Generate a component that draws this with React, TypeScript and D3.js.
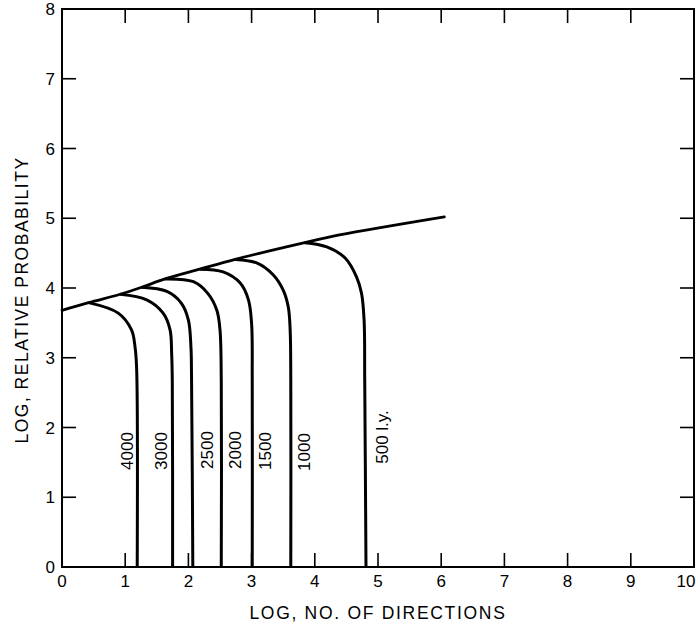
import React, { useRef, useEffect } from "react";
import * as d3 from "d3";

const xTicks = [0, 1, 2, 3, 4, 5, 6, 7, 8, 9, 10];
const yTicks = [0, 1, 2, 3, 4, 5, 6, 7, 8];

// upper envelope: log relative probability vs log no. of directions
const envelope: [number, number][] = [
  [0, 3.68], [0.42, 3.79], [0.92, 3.91], [1.26, 4.01], [1.63, 4.13],
  [2.18, 4.27], [2.74, 4.41], [3.84, 4.65], [4.39, 4.76], [6.05, 5.02],
];

// one curve per distance
const curve4000: [number, number][] = [
  [0.42, 3.79], [0.89, 3.64], [1.1, 3.4], [1.155, 3.16], [1.18, 2.87], [1.19, 0],
];
const curve3000: [number, number][] = [
  [0.92, 3.91], [1.34, 3.83], [1.6, 3.64], [1.71, 3.4], [1.735, 3.06], [1.745, 2.68], [1.75, 0],
];
const curve2500: [number, number][] = [
  [1.26, 4.01], [1.66, 3.95], [1.89, 3.78], [2.0, 3.54], [2.04, 3.16], [2.05, 2.68], [2.07, 0],
];
const curve2000: [number, number][] = [
  [1.63, 4.13], [2.08, 4.09], [2.31, 3.92], [2.45, 3.68], [2.5, 3.4], [2.52, 2.68], [2.52, 0],
];
const curve1500: [number, number][] = [
  [2.18, 4.27], [2.55, 4.23], [2.82, 4.07], [2.95, 3.83], [3.0, 3.49], [3.01, 2.68], [3.01, 0],
];
const curve1000: [number, number][] = [
  [2.74, 4.41], [3.08, 4.36], [3.34, 4.19], [3.5, 3.97], [3.58, 3.73], [3.61, 3.4], [3.62, 2.68], [3.62, 0],
];
const curve500: [number, number][] = [
  [3.84, 4.65], [4.19, 4.59], [4.48, 4.43], [4.66, 4.16], [4.74, 3.92], [4.78, 3.54], [4.79, 2.68], [4.81, 0],
];

const curves = [curve4000, curve3000, curve2500, curve2000, curve1500, curve1000, curve500];
const curveLabels = ["4000", "3000", "2500", "2000", "1500", "1000", "500 l.y."];

// label placement (px): sideways offset from the vertical part, and vertical centre
const labelDx = [-10, -12, 14, 14, 13, 13, 16];
const labelCy = [451, 451, 450, 450, 451, 452, 437];

const FONT = "'Liberation Sans', Arial, sans-serif";

export default function App() {
  const ref = useRef<SVGSVGElement>(null);

  useEffect(() => {
    const svg = d3.select(ref.current);
    svg.selectAll("*").remove();

    const x = d3.scaleLinear().domain([0, 10]).range([62, 694]);
    const y = d3.scaleLinear().domain([0, 8]).range([567, 9]);

    // frame
    svg.append("rect")
      .attr("x", x(0)).attr("y", y(8))
      .attr("width", x(10) - x(0)).attr("height", y(0) - y(8))
      .attr("fill", "none").attr("stroke", "#000").attr("stroke-width", 2);

    const tk = 14;
    const inner = xTicks.slice(1, -1);
    const innerY = yTicks.slice(1, -1);

    // ticks pointing inward on all four sides
    svg.selectAll(".tb").data(inner).join("line").classed("tb", true)
      .attr("x1", d => x(d)).attr("x2", d => x(d))
      .attr("y1", y(0)).attr("y2", y(0) - tk)
      .attr("stroke", "#000").attr("stroke-width", 1.6);
    svg.selectAll(".tt").data(inner).join("line").classed("tt", true)
      .attr("x1", d => x(d)).attr("x2", d => x(d))
      .attr("y1", y(8)).attr("y2", y(8) + tk)
      .attr("stroke", "#000").attr("stroke-width", 1.6);
    svg.selectAll(".tl").data(innerY).join("line").classed("tl", true)
      .attr("x1", x(0)).attr("x2", x(0) + tk)
      .attr("y1", d => y(d)).attr("y2", d => y(d))
      .attr("stroke", "#000").attr("stroke-width", 1.6);
    svg.selectAll(".tr").data(innerY).join("line").classed("tr", true)
      .attr("x1", x(10)).attr("x2", x(10) - tk)
      .attr("y1", d => y(d)).attr("y2", d => y(d))
      .attr("stroke", "#000").attr("stroke-width", 1.6);

    // tick labels
    svg.selectAll(".xl").data(xTicks).join("text").classed("xl", true)
      .attr("x", d => (d === 10 ? x(d) - 8 : x(d)))
      .attr("y", 587)
      .attr("text-anchor", "middle")
      .style("font-family", FONT).style("font-size", "17px")
      .text(d => d);
    svg.selectAll(".yl").data(yTicks).join("text").classed("yl", true)
      .attr("x", 55)
      .attr("y", d => y(d) + 6)
      .attr("text-anchor", "end")
      .style("font-family", FONT).style("font-size", "17px")
      .text(d => d);

    // axis titles
    svg.append("text")
      .attr("x", 378).attr("y", 619)
      .attr("text-anchor", "middle")
      .style("font-family", FONT).style("font-size", "17.5px")
      .style("letter-spacing", "1.7px")
      .text("LOG, NO. OF DIRECTIONS");
    svg.append("text")
      .attr("transform", "translate(28,300) rotate(-90)")
      .attr("text-anchor", "middle")
      .style("font-family", FONT).style("font-size", "17.5px")
      .style("letter-spacing", "1.5px")
      .text("LOG, RELATIVE PROBABILITY");

    const line = d3.line<[number, number]>()
      .x(d => x(d[0]))
      .y(d => y(d[1]))
      .curve(d3.curveCatmullRom.alpha(0.5));

    svg.append("path")
      .attr("d", line(envelope))
      .attr("fill", "none").attr("stroke", "#000").attr("stroke-width", 2.8)
      .attr("stroke-linecap", "round");

    svg.selectAll(".curve").data(curves).join("path").classed("curve", true)
      .attr("d", d => line(d))
      .attr("fill", "none").attr("stroke", "#000").attr("stroke-width", 3);

    svg.selectAll(".clab").data(curves).join("text").classed("clab", true)
      .attr("transform", (d, i) => {
        const base = d[d.length - 1];
        return `translate(${x(base[0]) + labelDx[i]},${labelCy[i]}) rotate(-90)`;
      })
      .attr("text-anchor", "middle")
      .attr("dy", "0.36em")
      .style("font-family", FONT).style("font-size", "17px")
      .text((d, i) => curveLabels[i]);
  }, []);

  return (
    <svg
      ref={ref}
      width={698}
      height={628}
      style={{ position: "absolute", left: 0, top: 0, background: "#fff" }}
    />
  );
}
